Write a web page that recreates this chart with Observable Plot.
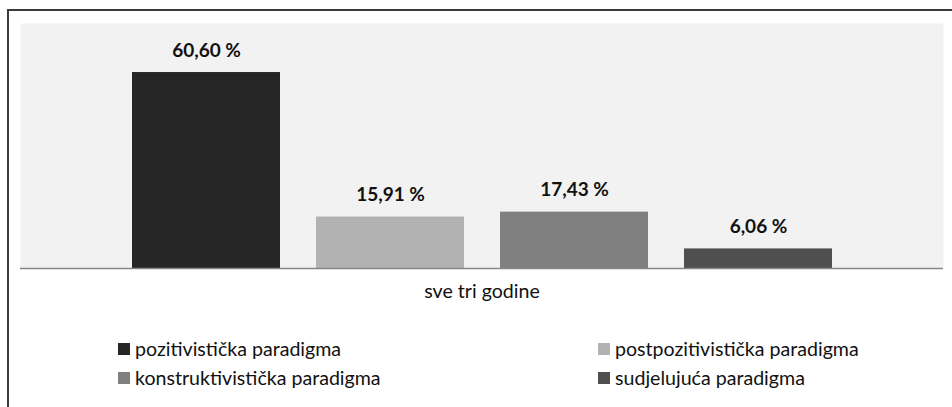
<!DOCTYPE html>
<html><head><meta charset="utf-8">
<script src="https://cdn.jsdelivr.net/npm/d3@7"></script>
<script src="https://cdn.jsdelivr.net/npm/@observablehq/plot@0.6"></script>
<style>
body{margin:0;background:#fff;}
#wrap{position:relative;width:952px;height:407px;overflow:hidden;font-family:Lato,sans-serif;color:#111;}
#border{position:absolute;left:7px;top:9px;width:1000px;height:500px;border-left:2px solid #3a3a3a;border-top:2px solid #3a3a3a;}
#chart{position:absolute;left:0;top:0;}
.item{position:absolute;height:20px;font-size:19.6px;line-height:20px;white-space:nowrap;}
.sw{position:absolute;left:0;top:4px;width:12px;height:12px;}
.lab{position:absolute;left:17px;top:0;}
</style></head>
<body>
<div id="wrap"><div id="border"></div><div id="chart"></div></div>
<script>
const categories = ["pozitivistička paradigma","postpozitivistička paradigma","konstruktivistička paradigma","sudjelujuća paradigma"];
const values = [60.60, 15.91, 17.43, 6.06];
const colors = ["#262626","#b2b2b2","#808080","#4f4f4f"];
const groupLabel = "sve tri godine";
const legendRows = [0, 0, 1, 1];
const legendCols = [0, 1, 0, 1];

const data = categories.map((c, i) => ({paradigm: c, value: values[i]}));
const fmt = v => v.toFixed(2).replace(".", ",") + " %";

const chart = Plot.plot({
  width: 952, height: 320,
  marginLeft: 20, marginRight: 9, marginTop: 23, marginBottom: 52,
  x: {domain: categories, paddingInner: 0.198, paddingOuter: 0.6, axis: null},
  y: {domain: [0, 75.76], axis: null},
  color: {domain: categories, range: colors},
  style: {fontFamily: "Lato, sans-serif", background: "transparent", overflow: "visible"},
  marks: [
    Plot.frame({fill: "#f2f2f2", stroke: null}),
    Plot.barY(data, {x: "paradigm", y: "value", fill: "paradigm"}),
    Plot.ruleY([0], {stroke: "#868686", strokeWidth: 1.5}),
    Plot.text(data, {x: "paradigm", y: "value", text: d => fmt(d.value), lineAnchor: "bottom", dy: -16, fontSize: 19, fontWeight: "bold", fill: "#111"}),
    Plot.text([groupLabel], {text: d => d, frameAnchor: "bottom", dy: 29, fontSize: 19.6, fill: "#111"})
  ]
});
document.getElementById("chart").appendChild(chart);

const color = chart.scale("color");
const wrap = document.getElementById("wrap");
const colX = [118, 598], rowY = [339, 368];
categories.forEach((c, i) => {
  const it = document.createElement("div");
  it.className = "item";
  it.style.left = colX[legendCols[i]] + "px";
  it.style.top = rowY[legendRows[i]] + "px";
  const sw = document.createElement("div");
  sw.className = "sw";
  sw.style.background = color.apply(c);
  const lab = document.createElement("div");
  lab.className = "lab";
  lab.textContent = c;
  it.appendChild(sw); it.appendChild(lab);
  wrap.appendChild(it);
});
</script>
</body></html>
